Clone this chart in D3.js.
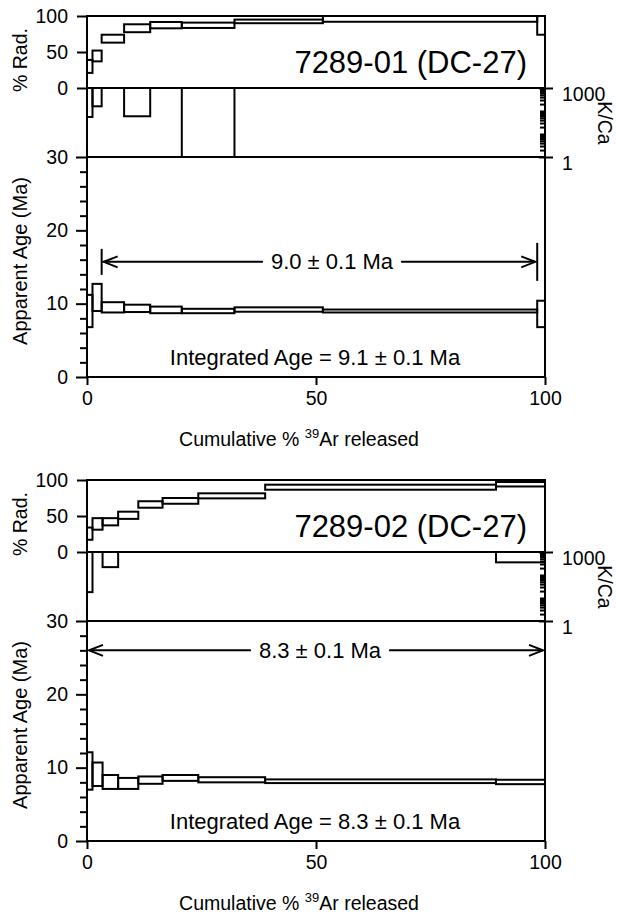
<!DOCTYPE html>
<html><head><meta charset="utf-8">
<script src="https://cdn.jsdelivr.net/npm/d3@7"></script>
<style>
body{margin:0;background:#fff}
text{font-family:"Liberation Sans",Arial,Helvetica,sans-serif;fill:#000}
</style>
</head><body>
<svg id="c" width="617" height="913"></svg>
<script>
// ---------------- DATA ----------------
const sampleNames = ["7289-01 (DC-27)", "7289-02 (DC-27)"];

// cumulative % 39Ar step boundaries
const cumBounds1 = [0, 1.2, 3.2, 8.1, 13.8, 20.7, 32.2, 51.5, 98.3, 100];
const cumBounds2 = [0, 1.2, 3.4, 6.8, 11.2, 16.5, 24.3, 38.9, 89.3, 100];

// % radiogenic (value, 1-sigma)
const radVal1 = [30, 44.5, 68.5, 83, 87.3, 87.1, 92.5, 96, 87];
const radErr1 = [9, 7.5, 5.5, 5.5, 4.4, 3.7, 2.5, 4, 13];
const radVal2 = [25.5, 39, 42, 51, 66, 71, 78, 90, 94.1];
const radErr2 = [8.5, 8, 5, 5, 4.5, 4, 3.5, 3.5, 3.1];

// K/Ca (value, error)
const kcaVal1 = [600, 700, 2000, 600, 2000, 600, 2000, 2000, 2000];
const kcaErr1 = [545, 540, 500, 541, 500, 700, 500, 500, 500];
const kcaVal2 = [600, 2000, 700, 2000, 2000, 2000, 2000, 2000, 700];
const kcaErr2 = [582, 500, 480, 500, 500, 500, 500, 500, 345];

// apparent age, Ma (value, error)
const ageVal1 = [9.0, 10.85, 9.5, 9.36, 9.15, 9.0, 9.2, 9.0, 8.6];
const ageErr1 = [2.2, 1.85, 0.7, 0.5, 0.45, 0.3, 0.3, 0.2, 1.8];
const ageVal2 = [9.55, 9.1, 8.05, 7.85, 8.3, 8.6, 8.35, 8.15, 8.05];
const ageErr2 = [2.55, 1.6, 0.95, 0.75, 0.5, 0.4, 0.35, 0.25, 0.3];

// plateau annotation
const plateauLabels = ["9.0 \u00B1 0.1 Ma", "8.3 \u00B1 0.1 Ma"];
const plateauFrom = [3.2, 0];
const plateauTo = [98.3, 100];
const plateauAge = [15.7, 26.0];
const integratedLabels = ["Integrated Age = 9.1 \u00B1 0.1 Ma", "Integrated Age = 8.3 \u00B1 0.1 Ma"];

// ticks
const xTicks = [0, 50, 100];
const radTicks = [0, 50, 100];
const ageTicks = [0, 10, 20, 30];
const ageMinorTicks = [2, 4, 6, 8, 12, 14, 16, 18, 22, 24, 26, 28];
const kcaTicks = [1, 1000];
const kcaMinorTicks = [2,3,4,5,6,7,8,9,10,20,30,40,50,60,70,80,90,100,200,300,400,500,600,700,800,900];

// ---------------- LAYOUT ----------------
const panelData = [
  {bounds: cumBounds1, rv: radVal1, re: radErr1, kv: kcaVal1, ke: kcaErr1, av: ageVal1, ae: ageErr1},
  {bounds: cumBounds2, rv: radVal2, re: radErr2, kv: kcaVal2, ke: kcaErr2, av: ageVal2, ae: ageErr2}
];
const layout = [
  {oy: 0, capL: 13, capR: 19, caps: true, textX: 332},
  {oy: 464, capL: 0, capR: 0, caps: false, textX: 320}
];
const FS = 19.5;
const LW = 2;

const svg = d3.select("#c");
const x = d3.scaleLinear().domain([0, 100]).range([87, 545]);
const X0 = x(0), X1 = x(100);

panelData.forEach((d, pi) => {
  const L = layout[pi];
  const oy = L.oy;
  const yRad = d3.scaleLinear().domain([0, 100]).range([88 + oy, 16 + oy]);
  const yK = d3.scaleLog().domain([1, 1000]).range([157 + oy, 88 + oy]);
  const yAge = d3.scaleLinear().domain([0, 30]).range([377 + oy, 157 + oy]);
  const g = svg.append("g");

  // clip paths
  const defs = svg.append("defs");
  const mk = (id, y0, y1) => defs.append("clipPath").attr("id", id)
      .append("rect").attr("x", X0 - 1).attr("y", y0 - 1).attr("width", X1 - X0 + 2).attr("height", y1 - y0 + 2);
  mk("cr" + pi, yRad(100), yRad(0));
  mk("ck" + pi, yK(1000), yK(1));
  mk("ca" + pi, yAge(30), yAge(0));

  const steps = d.rv.map((v, i) => ({x0: d.bounds[i], x1: d.bounds[i + 1], i}));

  // % Rad boxes
  g.append("g").attr("clip-path", `url(#cr${pi})`).selectAll("rect").data(steps).join("rect")
    .attr("x", s => x(s.x0)).attr("width", s => x(s.x1) - x(s.x0))
    .attr("y", s => yRad(d.rv[s.i] + d.re[s.i]))
    .attr("height", s => yRad(d.rv[s.i] - d.re[s.i]) - yRad(d.rv[s.i] + d.re[s.i]))
    .attr("fill", "none").attr("stroke", "#000").attr("stroke-width", LW);

  // K/Ca boxes
  g.append("g").attr("clip-path", `url(#ck${pi})`).selectAll("rect").data(steps).join("rect")
    .attr("x", s => x(s.x0)).attr("width", s => x(s.x1) - x(s.x0))
    .attr("y", s => yK(d.kv[s.i] + d.ke[s.i]))
    .attr("height", s => {
      const lo = Math.max(d.kv[s.i] - d.ke[s.i], 0.3);
      return yK(lo) - yK(d.kv[s.i] + d.ke[s.i]);
    })
    .attr("fill", "none").attr("stroke", "#000").attr("stroke-width", LW);

  // Age boxes
  g.append("g").attr("clip-path", `url(#ca${pi})`).selectAll("rect").data(steps).join("rect")
    .attr("x", s => x(s.x0)).attr("width", s => x(s.x1) - x(s.x0))
    .attr("y", s => yAge(d.av[s.i] + d.ae[s.i]))
    .attr("height", s => yAge(d.av[s.i] - d.ae[s.i]) - yAge(d.av[s.i] + d.ae[s.i]))
    .attr("fill", "none").attr("stroke", "#000").attr("stroke-width", LW);

  // frame lines
  const line = (x1, y1, x2, y2) => g.append("line").attr("x1", x1).attr("y1", y1).attr("x2", x2).attr("y2", y2)
      .attr("stroke", "#000").attr("stroke-width", LW).attr("stroke-linecap", "square");
  line(X0, yRad(100), X1, yRad(100));
  line(X0, yRad(0), X1, yRad(0));
  line(X0, yAge(30), X1, yAge(30));
  line(X0, yAge(0), X1, yAge(0));
  line(X0, yRad(100), X0, yAge(0));
  line(X1, yRad(100), X1, yAge(0));

  const styleAxis = sel => {
    sel.select(".domain").remove();
    sel.selectAll(".tick line").attr("stroke", "#000").attr("stroke-width", LW);
    sel.selectAll(".tick text").attr("font-size", FS).attr("font-family", null).attr("fill", "#000");
  };

  // % Rad axis
  g.append("g").attr("transform", `translate(${X0},0)`)
    .call(d3.axisLeft(yRad).tickValues(radTicks).tickSize(10).tickPadding(9).tickFormat(d3.format("d")))
    .call(styleAxis);
  // Age axis
  g.append("g").attr("transform", `translate(${X0},0)`)
    .call(d3.axisLeft(yAge).tickValues(ageTicks).tickSize(11).tickPadding(8).tickFormat(d3.format("d")))
    .call(styleAxis);
  g.append("g").attr("transform", `translate(${X0},0)`)
    .call(d3.axisLeft(yAge).tickValues(ageMinorTicks).tickSize(7).tickFormat(""))
    .call(styleAxis);
  // bottom axis
  g.append("g").attr("transform", `translate(0,${yAge(0)})`)
    .call(d3.axisBottom(x).tickValues(xTicks).tickSize(8).tickPadding(6).tickFormat(d3.format("d")))
    .call(styleAxis);
  // K/Ca axis
  g.append("g").attr("transform", `translate(${X1},0)`)
    .call(d3.axisRight(yK).tickValues(kcaTicks).tickSize(8).tickPadding(9).tickFormat(d3.format("d")))
    .call(styleAxis)
    .call(s => s.selectAll(".tick text").attr("y", 6));
  g.append("g").attr("transform", `translate(${X1},0)`)
    .call(d3.axisLeft(yK).tickValues(kcaMinorTicks).tickSize(5).tickFormat(""))
    .call(styleAxis);
  g.append("g").attr("transform", `translate(${X1},0)`)
    .call(d3.axisLeft(yK).tickValues(kcaTicks).tickSize(6).tickFormat(""))
    .call(styleAxis);

  // Sample name
  g.append("text").attr("x", 527).attr("y", 73 + oy).attr("text-anchor", "end")
    .attr("font-size", 31).text(sampleNames[pi]);

  // axis titles
  g.append("text").attr("transform", `translate(27,${60 + oy}) rotate(-90)`)
    .attr("text-anchor", "middle").attr("font-size", FS).text("% Rad.");
  g.append("text").attr("transform", `translate(27,${261 + oy}) rotate(-90)`)
    .attr("text-anchor", "middle").attr("font-size", 20).text("Apparent Age (Ma)");
  g.append("text").attr("transform", `translate(598,${123 + oy}) rotate(90)`)
    .attr("text-anchor", "middle").attr("font-size", 19.5).text("K/Ca");

  const xl = g.append("text").attr("x", 299).attr("y", 446 + oy).attr("text-anchor", "middle").attr("font-size", FS);
  xl.append("tspan").text("Cumulative % ");
  xl.append("tspan").attr("font-size", 13).attr("dy", -8).text("39");
  xl.append("tspan").attr("dy", 8).text("Ar released");

  // plateau arrow
  const ay = yAge(plateauAge[pi]);
  const ax0 = x(plateauFrom[pi]), ax1 = x(plateauTo[pi]);
  const t = g.append("text").attr("x", L.textX).attr("y", ay + 7.5).attr("text-anchor", "middle")
    .attr("font-size", 22).text(plateauLabels[pi]);
  const tw = t.node().getComputedTextLength();
  const gap = 8;
  line(ax0 + 2, ay, L.textX - tw / 2 - gap, ay).attr("stroke-linecap", "butt");
  line(L.textX + tw / 2 + gap, ay, ax1 - 2, ay).attr("stroke-linecap", "butt");
  const head = (tip, dir) => g.append("path")
    .attr("d", `M${tip + dir * 14},${ay - 5.5}L${tip},${ay}L${tip + dir * 14},${ay + 5.5}`)
    .attr("fill", "none").attr("stroke", "#000").attr("stroke-width", LW);
  head(ax0 + 2, 1);
  head(ax1 - 2, -1);
  if (L.caps) {
    line(ax0, ay - L.capL, ax0, ay + L.capL).attr("stroke-linecap", "butt");
    line(ax1, ay - L.capR, ax1, ay + L.capR).attr("stroke-linecap", "butt");
  }

  // integrated age
  g.append("text").attr("x", 315).attr("y", 365 + oy).attr("text-anchor", "middle")
    .attr("font-size", 22).text(integratedLabels[pi]);
});
</script>
</body></html>
